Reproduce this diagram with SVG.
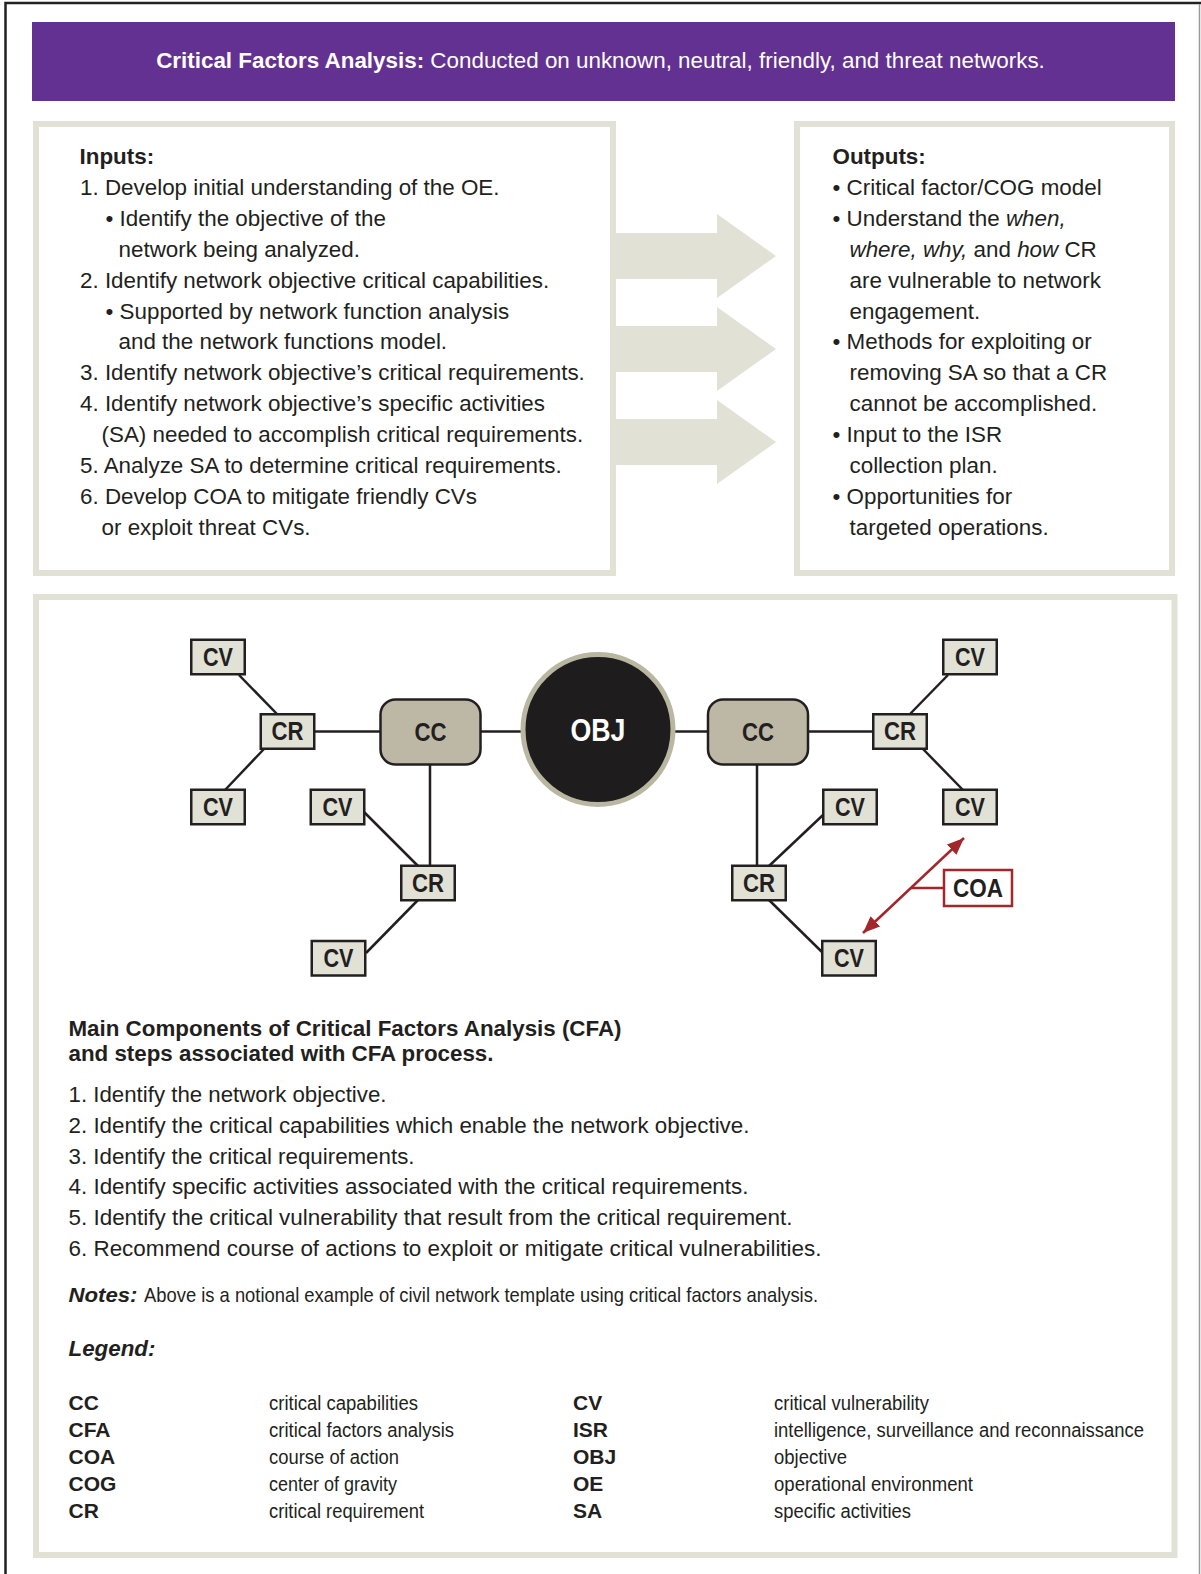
<svg xmlns="http://www.w3.org/2000/svg" width="1201" height="1574" viewBox="0 0 1201 1574">
  <defs>
    <style>
      text { font-family: "Liberation Sans", Arial, sans-serif; fill: #231f20; }
      .body { font-size: 22.4px; }
      .list { font-size: 22px; }
      .b { font-weight: bold; }
      .i { font-style: italic; }
      .banner { font-size: 22.4px; fill: #ffffff; }
      .panel { fill: #ffffff; stroke: #e1e1d6; stroke-width: 6; }
      .flow { fill: #e1e1d6; }
      .box { fill: #e1e1d5; stroke: #231f20; stroke-width: 2.5; }
      .cc { fill: #bcb8a5; stroke: #231f20; stroke-width: 2.5; }
      .lbl { font-size: 25px; font-weight: bold; text-anchor: middle; }
      .link { stroke: #231f20; stroke-width: 2.5; fill: none; }
      .coa { stroke: #a3262a; stroke-width: 2.5; fill: none; }
      .leg { font-size: 20px; }
      .abbr { font-size: 21px; font-weight: bold; }
    </style>
    <marker id="redHead" markerUnits="userSpaceOnUse" markerWidth="18" markerHeight="14" refX="17" refY="7" orient="auto-start-reverse">
      <path d="M0,0 L17,7 L0,14 Z" fill="#a3262a"/>
    </marker>
  </defs>

  <!-- page -->
  <rect x="0" y="0" width="1201" height="1574" fill="#ffffff"/>
  <path d="M5.5,1574 V3 H1201" fill="none" stroke="#222222" stroke-width="2.5"/>
  <line x1="1199.5" y1="4" x2="1199.5" y2="1574" stroke="#9a9a9a" stroke-width="1.5"/>

  <!-- title banner -->
  <rect x="32" y="22" width="1143" height="79" fill="#633191"/>
  <text class="banner" x="600.5" y="67.5" text-anchor="middle"><tspan class="b" style="fill:#ffffff">Critical Factors Analysis:</tspan> Conducted on unknown, neutral, friendly, and threat networks.</text>

  <!-- flow arrows between inputs and outputs -->
  <g id="flow-arrows">
    <path class="flow" d="M610,233 H717 V214 L776,256 L717,298 V279 H610 Z"/>
    <path class="flow" d="M610,326 H717 V307 L776,349 L717,391 V372 H610 Z"/>
    <path class="flow" d="M610,419 H717 V400 L776,442 L717,484 V465 H610 Z"/>
  </g>

  <!-- inputs panel -->
  <g id="inputs">
    <rect class="panel" x="36" y="124" width="577" height="449"/>
    <text class="body b" x="79.5" y="164">Inputs:</text>
    <text class="body" x="80" y="194.9">1. Develop initial understanding of the OE.</text>
    <text class="body" x="105.5" y="225.8">• Identify the objective of the</text>
    <text class="body" x="118.5" y="256.7">network being analyzed.</text>
    <text class="body" x="80" y="287.6">2. Identify network objective critical capabilities.</text>
    <text class="body" x="105.5" y="318.5">• Supported by network function analysis</text>
    <text class="body" x="118.5" y="349.4">and the network functions model.</text>
    <text class="body" x="80" y="380.3">3. Identify network objective’s critical requirements.</text>
    <text class="body" x="80" y="411.2">4. Identify network objective’s specific activities</text>
    <text class="body" x="101.5" y="442.1">(SA) needed to accomplish critical requirements.</text>
    <text class="body" x="80" y="473">5. Analyze SA to determine critical requirements.</text>
    <text class="body" x="80" y="503.9">6. Develop COA to mitigate friendly CVs</text>
    <text class="body" x="101.5" y="534.8">or exploit threat CVs.</text>
  </g>

  <!-- outputs panel -->
  <g id="outputs">
    <rect class="panel" x="797" y="124" width="375" height="449"/>
    <text class="body b" x="832.5" y="164">Outputs:</text>
    <text class="body" x="832.5" y="194.9">• Critical factor/COG model</text>
    <text class="body" x="832.5" y="225.8">• Understand the <tspan class="i">when,</tspan></text>
    <text class="body" x="849.5" y="256.7"><tspan class="i">where, why,</tspan> and <tspan class="i">how</tspan> CR</text>
    <text class="body" x="849.5" y="287.6">are vulnerable to network</text>
    <text class="body" x="849.5" y="318.5">engagement.</text>
    <text class="body" x="832.5" y="349.4">• Methods for exploiting or</text>
    <text class="body" x="849.5" y="380.3">removing SA so that a CR</text>
    <text class="body" x="849.5" y="411.2">cannot be accomplished.</text>
    <text class="body" x="832.5" y="442.1">• Input to the ISR</text>
    <text class="body" x="849.5" y="473">collection plan.</text>
    <text class="body" x="832.5" y="503.9">• Opportunities for</text>
    <text class="body" x="849.5" y="534.8">targeted operations.</text>
  </g>

  <!-- lower panel -->
  <rect class="panel" x="36" y="597" width="1138.5" height="958"/>

  <!-- connectors -->
  <g id="connectors">
    <line class="link" x1="314" y1="731.5" x2="382" y2="731.5"/>
    <line class="link" x1="480" y1="731.5" x2="522" y2="731.5"/>
    <line class="link" x1="674" y1="731.5" x2="710" y2="731.5"/>
    <line class="link" x1="806" y1="731.5" x2="875" y2="731.5"/>
    <line class="link" x1="239" y1="675" x2="277" y2="714"/>
    <line class="link" x1="264" y1="749" x2="225" y2="790"/>
    <line class="link" x1="430" y1="764" x2="430" y2="867"/>
    <line class="link" x1="364" y1="812" x2="418" y2="866"/>
    <line class="link" x1="418" y1="900" x2="366" y2="953"/>
    <line class="link" x1="910" y1="714" x2="948" y2="675"/>
    <line class="link" x1="923" y1="749" x2="963" y2="790"/>
    <line class="link" x1="757" y1="764" x2="757" y2="867"/>
    <line class="link" x1="823" y1="815" x2="769" y2="866"/>
    <line class="link" x1="769" y1="900" x2="823" y2="953"/>
    <line class="coa" x1="964" y1="838" x2="863" y2="933" marker-start="url(#redHead)" marker-end="url(#redHead)"/>
    <line class="coa" x1="911" y1="888" x2="944" y2="888"/>
  </g>

  <!-- network nodes -->
  <g id="obj">
    <circle cx="598" cy="729.5" r="75" fill="#1e1c1d" stroke="#b9b6a1" stroke-width="5"/>
    <text class="lbl" x="598" y="740.5" style="fill:#ffffff;font-size:31px" textLength="55" lengthAdjust="spacingAndGlyphs">OBJ</text>
  </g>
  <g id="cc-left">
    <rect class="cc" x="380.5" y="699.5" width="100" height="65" rx="15"/>
    <text class="lbl" x="430.5" y="741" textLength="32" lengthAdjust="spacingAndGlyphs">CC</text>
  </g>
  <g id="cc-right">
    <rect class="cc" x="708" y="699.5" width="100" height="65" rx="15"/>
    <text class="lbl" x="758" y="741" textLength="32" lengthAdjust="spacingAndGlyphs">CC</text>
  </g>
  <g id="cr-left">
    <rect class="box" x="260.75" y="714.25" width="53.5" height="34.5"/>
    <text class="lbl" x="287.5" y="740" textLength="32" lengthAdjust="spacingAndGlyphs">CR</text>
  </g>
  <g id="cv-left-top">
    <rect class="box" x="191.25" y="639.75" width="53.5" height="34.5"/>
    <text class="lbl" x="218" y="665.5" textLength="30" lengthAdjust="spacingAndGlyphs">CV</text>
  </g>
  <g id="cv-left-bottom">
    <rect class="box" x="191.25" y="789.75" width="53.5" height="34.5"/>
    <text class="lbl" x="218" y="815.5" textLength="30" lengthAdjust="spacingAndGlyphs">CV</text>
  </g>
  <g id="cv-mid-left">
    <rect class="box" x="310.75" y="789.75" width="53.5" height="34.5"/>
    <text class="lbl" x="337.5" y="815.5" textLength="30" lengthAdjust="spacingAndGlyphs">CV</text>
  </g>
  <g id="cr-lower-left">
    <rect class="box" x="401.25" y="865.75" width="53.5" height="34.5"/>
    <text class="lbl" x="428" y="891.5" textLength="32" lengthAdjust="spacingAndGlyphs">CR</text>
  </g>
  <g id="cv-bottom-left">
    <rect class="box" x="311.75" y="941" width="53.5" height="34.5"/>
    <text class="lbl" x="338.5" y="966.8" textLength="30" lengthAdjust="spacingAndGlyphs">CV</text>
  </g>
  <g id="cr-right">
    <rect class="box" x="873.25" y="714.25" width="53.5" height="34.5"/>
    <text class="lbl" x="900" y="740" textLength="32" lengthAdjust="spacingAndGlyphs">CR</text>
  </g>
  <g id="cv-right-top">
    <rect class="box" x="943.25" y="639.75" width="53.5" height="34.5"/>
    <text class="lbl" x="970" y="665.5" textLength="30" lengthAdjust="spacingAndGlyphs">CV</text>
  </g>
  <g id="cv-right">
    <rect class="box" x="943.25" y="789.75" width="53.5" height="34.5"/>
    <text class="lbl" x="970" y="815.5" textLength="30" lengthAdjust="spacingAndGlyphs">CV</text>
  </g>
  <g id="cv-mid-right">
    <rect class="box" x="823.25" y="789.75" width="53.5" height="34.5"/>
    <text class="lbl" x="850" y="815.5" textLength="30" lengthAdjust="spacingAndGlyphs">CV</text>
  </g>
  <g id="cr-lower-right">
    <rect class="box" x="732.25" y="865.75" width="53.5" height="34.5"/>
    <text class="lbl" x="759" y="891.5" textLength="32" lengthAdjust="spacingAndGlyphs">CR</text>
  </g>
  <g id="cv-bottom-right">
    <rect class="box" x="822.25" y="941" width="53.5" height="34.5"/>
    <text class="lbl" x="849" y="966.8" textLength="30" lengthAdjust="spacingAndGlyphs">CV</text>
  </g>
  <g id="coa">
    <rect x="944" y="870" width="68" height="36" fill="#ffffff" stroke="#a3262a" stroke-width="2.5"/>
    <text class="lbl" x="978" y="897" textLength="50" lengthAdjust="spacingAndGlyphs">COA</text>
  </g>

  <!-- CFA steps -->
  <g id="cfa-steps">
    <text class="list b" x="68.5" y="1035.5" textLength="553" lengthAdjust="spacingAndGlyphs">Main Components of Critical Factors Analysis (CFA)</text>
    <text class="list b" x="68.5" y="1060.5" textLength="425" lengthAdjust="spacingAndGlyphs">and steps associated with CFA process.</text>
    <text class="list" x="68.5" y="1101.5" textLength="318" lengthAdjust="spacingAndGlyphs">1. Identify the network objective.</text>
    <text class="list" x="68.5" y="1132.6" textLength="681" lengthAdjust="spacingAndGlyphs">2. Identify the critical capabilities which enable the network objective.</text>
    <text class="list" x="68.5" y="1163.7" textLength="346" lengthAdjust="spacingAndGlyphs">3. Identify the critical requirements.</text>
    <text class="list" x="68.5" y="1194.2" textLength="680" lengthAdjust="spacingAndGlyphs">4. Identify specific activities associated with the critical requirements.</text>
    <text class="list" x="68.5" y="1225.2" textLength="724" lengthAdjust="spacingAndGlyphs">5. Identify the critical vulnerability that result from the critical requirement.</text>
    <text class="list" x="68.5" y="1256.2" textLength="753" lengthAdjust="spacingAndGlyphs">6. Recommend course of actions to exploit or mitigate critical vulnerabilities.</text>
    <text class="b i" x="68.5" y="1302" style="font-size:21px" textLength="69" lengthAdjust="spacingAndGlyphs">Notes:</text>
    <text x="144" y="1302" style="font-size:21px" textLength="674" lengthAdjust="spacingAndGlyphs">Above is a notional example of civil network template using critical factors analysis.</text>
  </g>

  <!-- legend -->
  <g id="legend">
    <text class="list b i" x="68.5" y="1355.5" textLength="87" lengthAdjust="spacingAndGlyphs">Legend:</text>
    <text class="abbr" x="68.5" y="1410">CC</text>
    <text class="abbr" x="68.5" y="1437">CFA</text>
    <text class="abbr" x="68.5" y="1464">COA</text>
    <text class="abbr" x="68.5" y="1491">COG</text>
    <text class="abbr" x="68.5" y="1518">CR</text>
    <text class="leg" x="269" y="1410" textLength="149" lengthAdjust="spacingAndGlyphs">critical capabilities</text>
    <text class="leg" x="269" y="1437" textLength="185" lengthAdjust="spacingAndGlyphs">critical factors analysis</text>
    <text class="leg" x="269" y="1464" textLength="130" lengthAdjust="spacingAndGlyphs">course of action</text>
    <text class="leg" x="269" y="1491" textLength="128" lengthAdjust="spacingAndGlyphs">center of gravity</text>
    <text class="leg" x="269" y="1518" textLength="155" lengthAdjust="spacingAndGlyphs">critical requirement</text>
    <text class="abbr" x="573" y="1410">CV</text>
    <text class="abbr" x="573" y="1437">ISR</text>
    <text class="abbr" x="573" y="1464">OBJ</text>
    <text class="abbr" x="573" y="1491">OE</text>
    <text class="abbr" x="573" y="1518">SA</text>
    <text class="leg" x="774" y="1410" textLength="155" lengthAdjust="spacingAndGlyphs">critical vulnerability</text>
    <text class="leg" x="774" y="1437" textLength="370" lengthAdjust="spacingAndGlyphs">intelligence, surveillance and reconnaissance</text>
    <text class="leg" x="774" y="1464" textLength="73" lengthAdjust="spacingAndGlyphs">objective</text>
    <text class="leg" x="774" y="1491" textLength="199" lengthAdjust="spacingAndGlyphs">operational environment</text>
    <text class="leg" x="774" y="1518" textLength="137" lengthAdjust="spacingAndGlyphs">specific activities</text>
  </g>
</svg>
